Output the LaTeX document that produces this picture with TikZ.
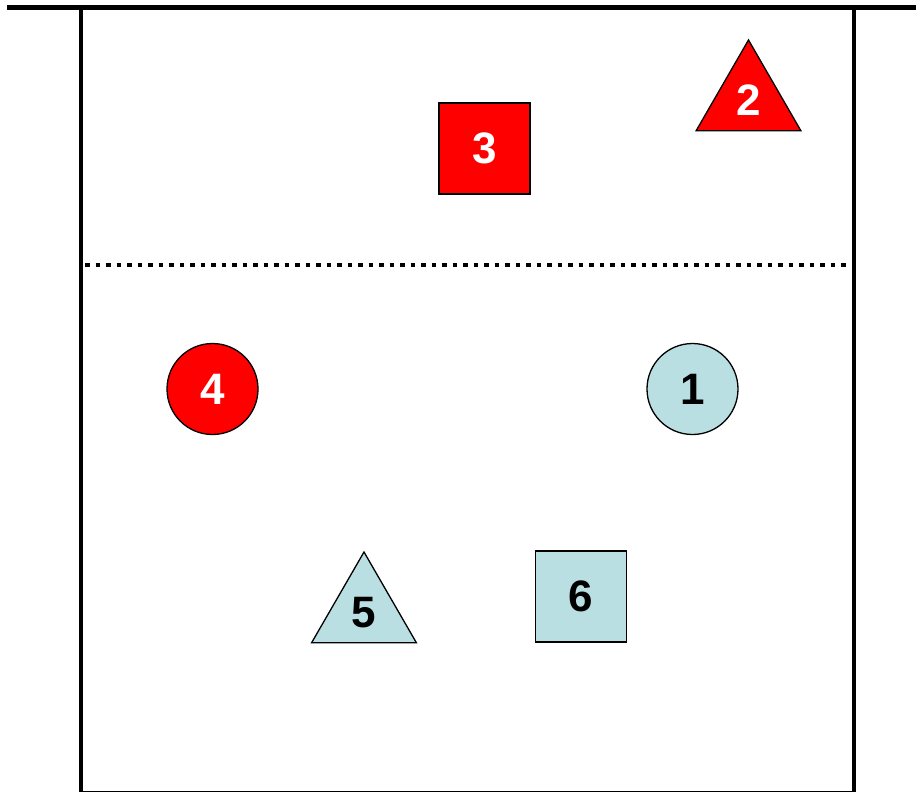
\documentclass[tikz,border=0pt]{standalone}
\usepackage{fontspec}
\setmainfont{Liberation Sans}
\usetikzlibrary{shapes.geometric}
\definecolor{teamred}{RGB}{255,0,0}
\definecolor{teamblue}{RGB}{185,223,227}

\begin{document}
\begin{tikzpicture}[x=1pt, y=-1pt,
  court/.style={line width=4.5pt, black},
  player/.style={draw=black, line width=1.3pt, inner sep=0pt,
    font=\fontsize{44}{44}\selectfont\bfseries},
  red/.style={player, fill=teamred, text=white},
  blue/.style={player, fill=teamblue, text=black},
  sq/.style={rectangle, minimum size=91pt},
  ring/.style={circle, minimum size=91pt},
  tri/.style={regular polygon, regular polygon sides=3, minimum size=121pt}
]
\useasboundingbox (0,0) rectangle (916,793);

% Court lines
\coordinate (TL) at (7,7.5);
\coordinate (TR) at (916,7.5);
\coordinate (NL) at (81,7.5);
\coordinate (NR) at (854,7.5);
\coordinate (BL) at (81,791.5);
\coordinate (BR) at (854,791.5);
\coordinate (AL) at (85,265);
\coordinate (AR) at (848,265);
\draw[court] (TL) -- (TR);
\draw[court] (NL) -- (BL);
\draw[court] (NR) -- (BR);
\draw[line width=1.2pt] (BL) -- (BR);
\draw[line width=4.5pt, dash pattern=on 4.8pt off 5.7pt] (AL) -- (AR);

% Players
\node[red, tri]   (P2) at (748.5,100.5) {2};
\node[red, sq]    (P3) at (484.5,148.5) {3};
\node[red, ring]  (P4) at (212.5,389)   {4};
\node[blue, ring] (P1) at (692.5,389)   {1};
\node[blue, tri]  (P5) at (364,612.5)   {5};
\node[blue, sq]   (P6) at (581,596.5)   {6};
\end{tikzpicture}
\end{document}
